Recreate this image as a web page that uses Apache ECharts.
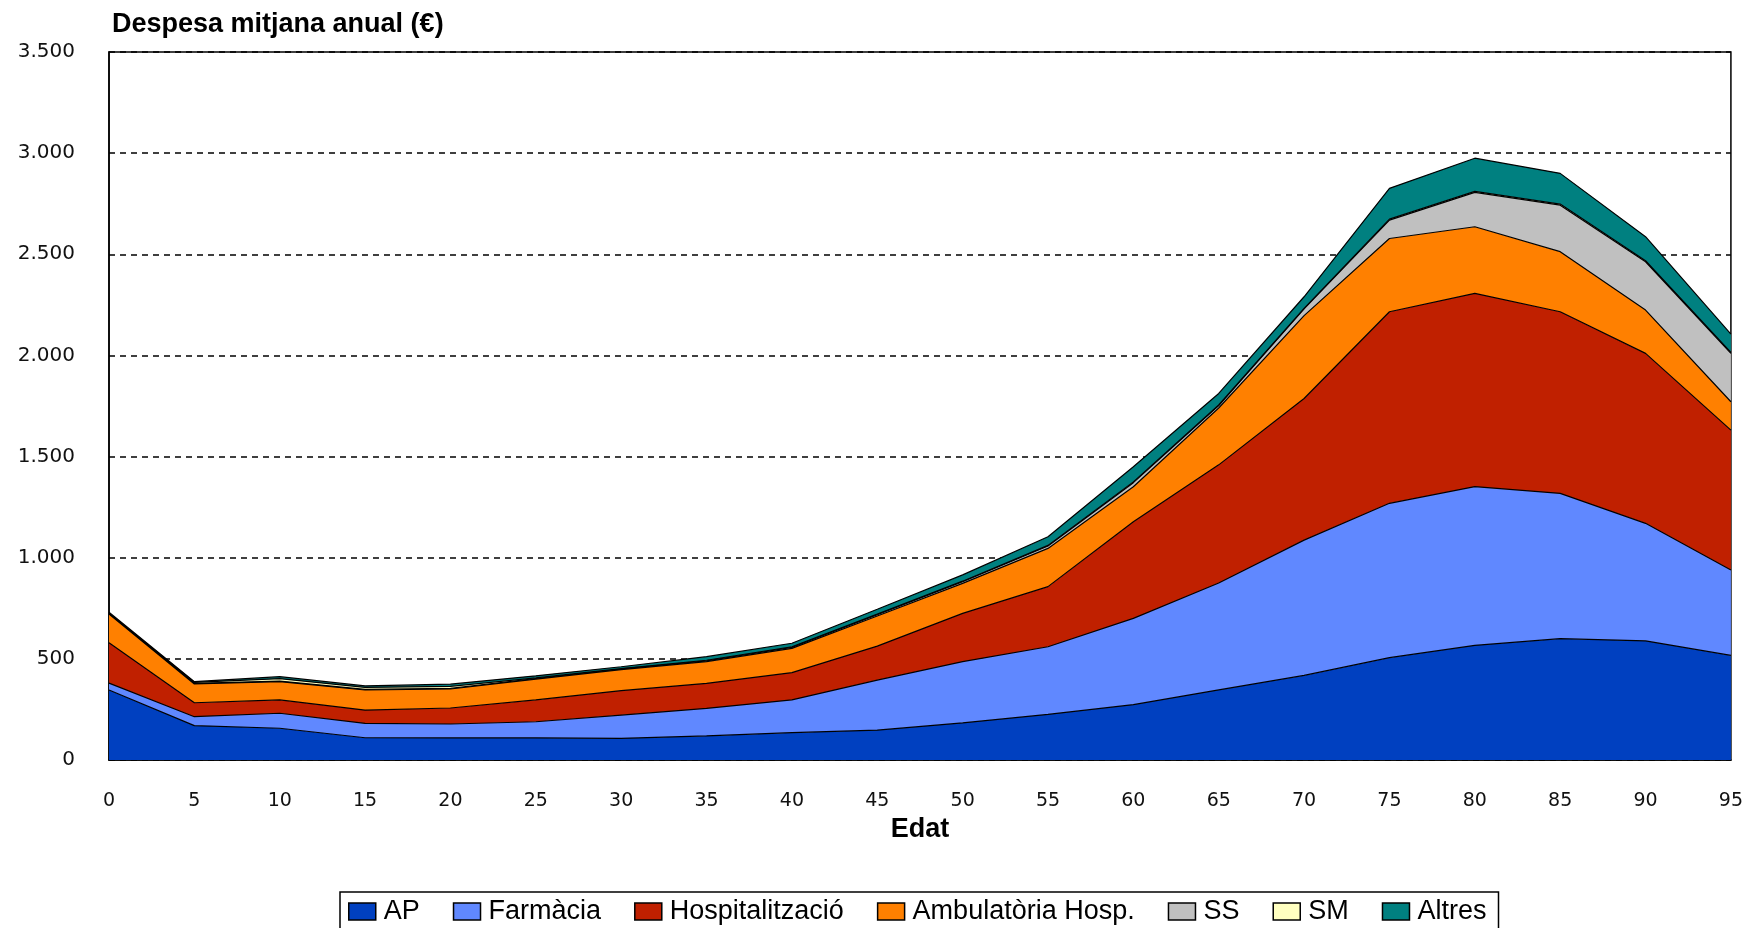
<!DOCTYPE html>
<html>
<head>
<meta charset="utf-8">
<script src="https://cdn.jsdelivr.net/npm/echarts@6/dist/echarts.min.js"></script>
<style>
  html, body { margin: 0; padding: 0; background: #fff; }
  #main { width: 1746px; height: 928px; }
</style>
</head>
<body>
<div id="main"></div>
<script>
const ages = ['0', '5', '10', '15', '20', '25', '30', '35', '40', '45', '50', '55', '60', '65', '70', '75', '80', '85', '90', '95']

const ap = [346, 170, 157, 110, 109, 109, 107, 119, 135, 148, 184, 226, 274, 347, 418, 506, 567, 600, 589, 517]
const farmacia = [34, 44, 74, 71, 69, 80, 115, 136, 162, 247, 302, 334, 426, 528, 669, 763, 784, 718, 581, 422]
const hospitalitzacio = [200, 69, 66, 66, 79, 108, 121, 124, 135, 168, 239, 297, 478, 584, 700, 947, 956, 898, 840, 692]
const ambulatoria = [142, 93, 90, 99, 94, 103, 104, 107, 120, 149, 148, 189, 173, 281, 410, 362, 329, 297, 214, 140]
const ss = [3, 3, 3, 3, 3, 3, 3, 4, 5, 6, 8, 12, 20, 12, 33, 91, 170, 230, 239, 239]
const sm = [0, 5, 12, 10, 10, 3, 2, 3, 3, 3, 3, 3, 4, 3, 3, 5, 5, 5, 5, 5]
const altres = [5, 3, 10, 7, 11, 10, 9, 18, 17, 24, 31, 43, 75, 57, 57, 152, 164, 152, 119, 90]

const yTicks = [0, 500, 1000, 1500, 2000, 2500, 3000, 3500]

const layers = [
  { name: 'AP', data: ap, color: '#0040C0' },
  { name: 'Farmàcia', data: farmacia, color: '#6088FF' },
  { name: 'Hospitalització', data: hospitalitzacio, color: '#C02000' },
  { name: 'Ambulatòria Hosp.', data: ambulatoria, color: '#FF8000' },
  { name: 'SS', data: ss, color: '#C0C0C0' },
  { name: 'SM', data: sm, color: '#FFFFC0' },
  { name: 'Altres', data: altres, color: '#008080' }
]

const font = 'Liberation Sans, Arial, sans-serif'
const tickFont = 'DejaVu Sans, Verdana, sans-serif'

const myChart = echarts.init(document.getElementById('main'))

myChart.setOption({
  animation: false,
  title: {
    text: 'Despesa mitjana anual (€)',
    left: 107,
    top: 6,
    textStyle: { fontFamily: font, fontSize: 27, fontWeight: 'bold', color: '#000' }
  },
  grid: {
    left: 109,
    right: 15,
    top: 52,
    bottom: 168,
    show: true,
    borderColor: '#000',
    borderWidth: 1.5,
    backgroundColor: 'transparent'
  },
  legend: {
    top: 892,
    left: 340,
    icon: 'rect',
    itemWidth: 27,
    itemHeight: 17,
    itemGap: 33,
    padding: [6, 12, 10, 8],
    borderColor: '#000',
    borderWidth: 1.5,
    itemStyle: { borderColor: '#000', borderWidth: 1.5 },
    textStyle: { fontFamily: font, fontSize: 27, color: '#000', padding: [0, 0, 0, 3] },
    data: layers.map(l => l.name)
  },
  xAxis: {
    type: 'category',
    data: ages,
    boundaryGap: false,
    name: 'Edat',
    nameLocation: 'middle',
    nameGap: 47,
    nameTextStyle: { fontFamily: font, fontSize: 27, fontWeight: 'bold', color: '#000' },
    axisLine: { lineStyle: { color: '#000', width: 1.5 } },
    axisTick: { show: false },
    axisLabel: { fontFamily: tickFont, fontSize: 19, color: '#111', margin: 32 },
    splitLine: { show: false }
  },
  yAxis: {
    type: 'value',
    min: yTicks[0],
    max: yTicks[yTicks.length - 1],
    interval: 500,
    axisLine: { show: true, lineStyle: { color: '#000', width: 1.5 } },
    axisTick: { show: false },
    axisLabel: {
      fontFamily: tickFont,
      fontSize: 20,
      color: '#111',
      margin: 34,
      formatter: v => String(v).replace(/\B(?=(\d{3})+(?!\d))/g, '.')
    },
    splitLine: { show: true, lineStyle: { color: '#000', type: [6, 5], width: 1.5 } }
  },
  series: layers.map(l => ({
    name: l.name,
    type: 'line',
    stack: 'total',
    data: l.data,
    showSymbol: false,
    symbol: 'none',
    itemStyle: { color: l.color },
    lineStyle: { color: '#000', width: 1.2 },
    areaStyle: { color: l.color, opacity: 1 },
    z: 3
  }))
})
</script>
</body>
</html>
